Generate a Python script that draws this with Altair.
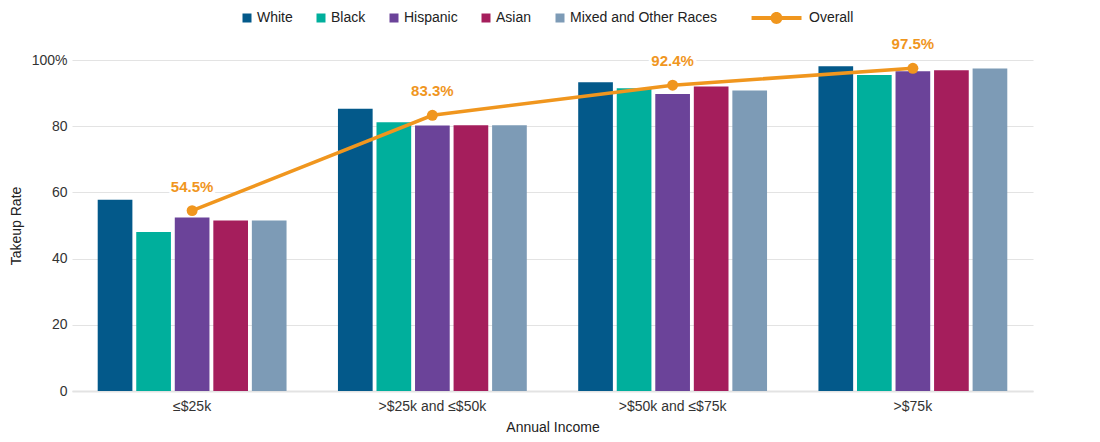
import altair as alt
import pandas as pd

incomes = ["≤$25k", ">$25k and ≤$50k", ">$50k and ≤$75k", ">$75k"]
races = ["White", "Black", "Hispanic", "Asian", "Mixed and Other Races"]
white = [57.8, 85.3, 93.3, 98.1]
black = [48.0, 81.2, 91.5, 95.5]
hispanic = [52.4, 80.2, 89.7, 96.6]
asian = [51.5, 80.3, 92.0, 96.9]
mixed = [51.5, 80.3, 90.8, 97.4]
overall = [54.5, 83.3, 92.4, 97.5]
overall_labels = ["54.5%", "83.3%", "92.4%", "97.5%"]
race_colors = ["#03598A", "#00AF9C", "#6B4399", "#A51E5C", "#7D9BB6"]
overall_color = "#F0961E"

series = [white, black, hispanic, asian, mixed]
rows = []
for race, vals in zip(races, series):
    for inc, v in zip(incomes, vals):
        rows.append({"income": inc, "race": race, "value": v})
bars_df = pd.DataFrame(rows)
overall_df = pd.DataFrame({"income": incomes, "value": overall,
                           "label": overall_labels, "series": ["Overall"] * 4})

FONT = "Liberation Sans"

overall_path = ("M-10.1,-0.44 L1,-0.44 L1,0.44 L-10.1,0.44 Z "
                "M-4.56,-1.33 A1.33,1.33 0 1,1 -4.56,1.33 A1.33,1.33 0 1,1 -4.56,-1.33 Z")

x_enc = alt.X(
    "income:N", sort=incomes,
    scale=alt.Scale(paddingInner=0.214, paddingOuter=0.107),
    axis=alt.Axis(title="Annual Income", labelAngle=0, ticks=False,
                  labelPadding=8, titlePadding=7, labelFontSize=14,
                  titleFontSize=14, titleFontWeight="normal",
                  labelColor="#333333", titleColor="#222222",
                  domainColor="#e3e3e3", domainWidth=2),
)
y_enc = alt.Y(
    "value:Q",
    scale=alt.Scale(domain=[0, 100], nice=False),
    axis=alt.Axis(title="Takeup Rate", values=[0, 20, 40, 60, 80, 100],
                  labelExpr="datum.value == 100 ? '100%' : datum.label",
                  ticks=False, domain=False, labelPadding=5,
                  titleX=-56, titleY=165.5, titleAngle=-90, titleBaseline="middle",
                  titleAlign="center",
                  labelFontSize=14, titleFontSize=14, titleFontWeight="normal",
                  labelColor="#333333", titleColor="#222222",
                  gridColor="#e3e3e3", gridWidth=1),
)

bars = alt.Chart(bars_df).mark_bar().encode(
    x=x_enc,
    xOffset=alt.XOffset("race:N", sort=races,
                        scale=alt.Scale(paddingInner=0.1, paddingOuter=0)),
    y=y_enc,
    color=alt.Color(
        "race:N",
        scale=alt.Scale(domain=races, range=race_colors),
        legend=alt.Legend(
            title=None, orient="none", legendX=168, legendY=-49,
            direction="horizontal", symbolType="square", symbolSize=81,
            labelFontSize=14, labelFont=FONT, labelColor="#222222",
            columnPadding=21, labelOffset=3,
        ),
    ),
)

line = alt.Chart(overall_df).mark_line(color=overall_color, strokeWidth=3.5).encode(
    x=alt.X("income:N", sort=incomes), y="value:Q")
points = alt.Chart(overall_df).mark_point(filled=True, size=120, opacity=1).encode(
    x=alt.X("income:N", sort=incomes), y="value:Q",
    fill=alt.Fill("series:N",
                  scale=alt.Scale(domain=["Overall"], range=[overall_color]),
                  legend=alt.Legend(
                      title=None, orient="none", legendX=718, legendY=-49,
                      symbolType=overall_path, symbolSize=81, symbolOpacity=1,
                      labelFontSize=14, labelFont=FONT, labelColor="#222222",
                      labelOffset=5)),
)
halo = alt.Chart(overall_df).mark_text(
    dy=-24, fontSize=15, fontWeight="bold", font=FONT,
    color="white", stroke="white", strokeWidth=6).encode(
    x=alt.X("income:N", sort=incomes), y="value:Q", text="label:N")
labels = alt.Chart(overall_df).mark_text(
    dy=-24, fontSize=15, fontWeight="bold", font=FONT, color=overall_color).encode(
    x=alt.X("income:N", sort=incomes), y="value:Q", text="label:N")

chart = alt.layer(bars, line, points, halo, labels).properties(
    width=961, height=331,
    padding={"left": 64, "top": 52, "right": 59, "bottom": 43},
    autosize=alt.AutoSizeParams(type="none"),
).configure(font=FONT).configure_view(stroke=None)

chart.save("out.html", embed_options={"renderer": "svg", "actions": False})
